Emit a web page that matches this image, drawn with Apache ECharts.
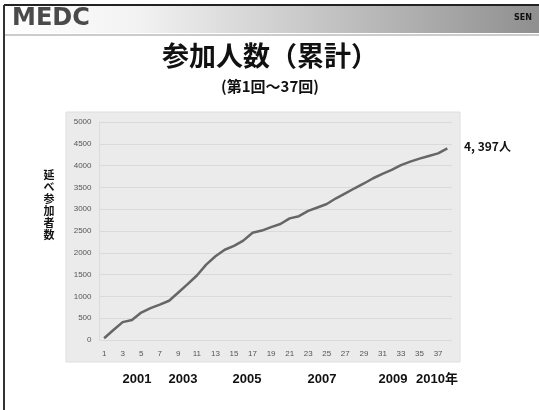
<!DOCTYPE html>
<html>
<head>
<meta charset="utf-8">
<script src="https://cdn.jsdelivr.net/npm/echarts@6/dist/echarts.min.js"></script>
<style>
  html, body { margin: 0; padding: 0; background: #fff; }
  #chart { width: 539px; height: 410px; }
</style>
</head>
<body>
<div id="chart"></div>
<script>
// Session numbers 1..38 and cumulative participant totals
const sessions = Array.from({ length: 38 }, (_, i) => String(i + 1));
const cumulative = [40, 230, 410, 460, 630, 730, 810, 900, 1090, 1280,
  1480, 1730, 1920, 2070, 2160, 2280, 2460, 2510, 2590, 2660,
  2790, 2840, 2960, 3040, 3120, 3250, 3365, 3480, 3590, 3710,
  3810, 3900, 4010, 4090, 4160, 4220, 4280, 4397];
const yearLabels = ['2001', '2003', '2005', '2007', '2009', '2010年'];
const yearX = [137, 183, 247, 322, 393, 437];

const JP = '"Noto Sans CJK JP", "Noto Sans", sans-serif';
const chart = echarts.init(document.getElementById('chart'), null, { renderer: 'canvas' });

const graphics = [
  // header bar
  { type: 'rect', shape: { x: 4, y: 5, width: 540, height: 28 }, z: -10,
    style: { fill: new echarts.graphic.LinearGradient(0, 0, 1, 0, [
      { offset: 0, color: '#ffffff' }, { offset: 0.25, color: '#f2f2f2' },
      { offset: 1, color: '#8e8e8e' }]) } },
  { type: 'line', shape: { x1: 4, y1: 5, x2: 539, y2: 5 }, style: { stroke: '#222', lineWidth: 2 } },
  { type: 'line', shape: { x1: 4, y1: 35, x2: 539, y2: 35 }, style: { stroke: '#999', lineWidth: 1 } },
  { type: 'line', shape: { x1: 4, y1: 5, x2: 4, y2: 410 }, style: { stroke: '#333', lineWidth: 2 } },
  { type: 'text', left: 12, top: 7, style: { text: 'MEDC', font: 'bold 24px "DejaVu Sans", sans-serif', fill: '#4a4a4a' } },
  { type: 'text', left: 514, top: 14, style: { text: 'SEN', font: 'bold 8px "DejaVu Sans", sans-serif', fill: '#111' } },
  // titles
  { type: 'text', x: 270, y: 56, style: { text: '参加人数（累計）', font: 'bold 27px ' + JP, fill: '#111', align: 'center', verticalAlign: 'middle' } },
  { type: 'text', x: 270, y: 86, style: { text: '(第1回～37回)', font: 'bold 15px ' + JP, fill: '#111', align: 'center', verticalAlign: 'middle' } },
  // chart area background
  { type: 'rect', shape: { x: 66, y: 112, width: 394, height: 250 }, z: -5,
    style: { fill: '#ebebeb', stroke: '#dedede', lineWidth: 1 } },
  // vertical axis name
  { type: 'text', x: 49, y: 205, style: { text: '延\nべ\n参\n加\n者\n数', font: 'bold 11px ' + JP, lineHeight: 12, fill: '#111', align: 'center', verticalAlign: 'middle' } },
  // end value note
  { type: 'text', left: 464, top: 140, style: { text: '4, 397人', font: 'bold 12px ' + JP, fill: '#111' } }
];
yearLabels.forEach((t, i) => {
  graphics.push({ type: 'text', x: yearX[i], y: 379, style: { text: t, font: 'bold 13px "Liberation Sans", ' + JP, fill: '#111', align: 'center', verticalAlign: 'middle' } });
});

chart.setOption({
  animation: false,
  grid: { left: 99.5, right: 87, top: 122, bottom: 70 },
  xAxis: {
    type: 'category',
    data: sessions,
    boundaryGap: true,
    axisLine: { show: false },
    axisTick: { show: false },
    splitLine: { show: false },
    axisLabel: { interval: 1, fontSize: 8, color: '#555', margin: 10, fontFamily: '"Liberation Sans", sans-serif' }
  },
  yAxis: {
    type: 'value',
    min: 0, max: 5000, interval: 500,
    axisLine: { show: true, lineStyle: { color: '#dcdcdc' } },
    axisTick: { show: false },
    splitLine: { lineStyle: { color: '#dadada', width: 1 } },
    axisLabel: { fontSize: 8, color: '#555', margin: 8, fontFamily: '"Liberation Sans", sans-serif',
      formatter: v => String(v) }
  },
  series: [{
    type: 'line',
    data: cumulative,
    symbol: 'none',
    lineStyle: { color: '#666', width: 2.5 }
  }],
  graphic: graphics
});
</script>
</body>
</html>
